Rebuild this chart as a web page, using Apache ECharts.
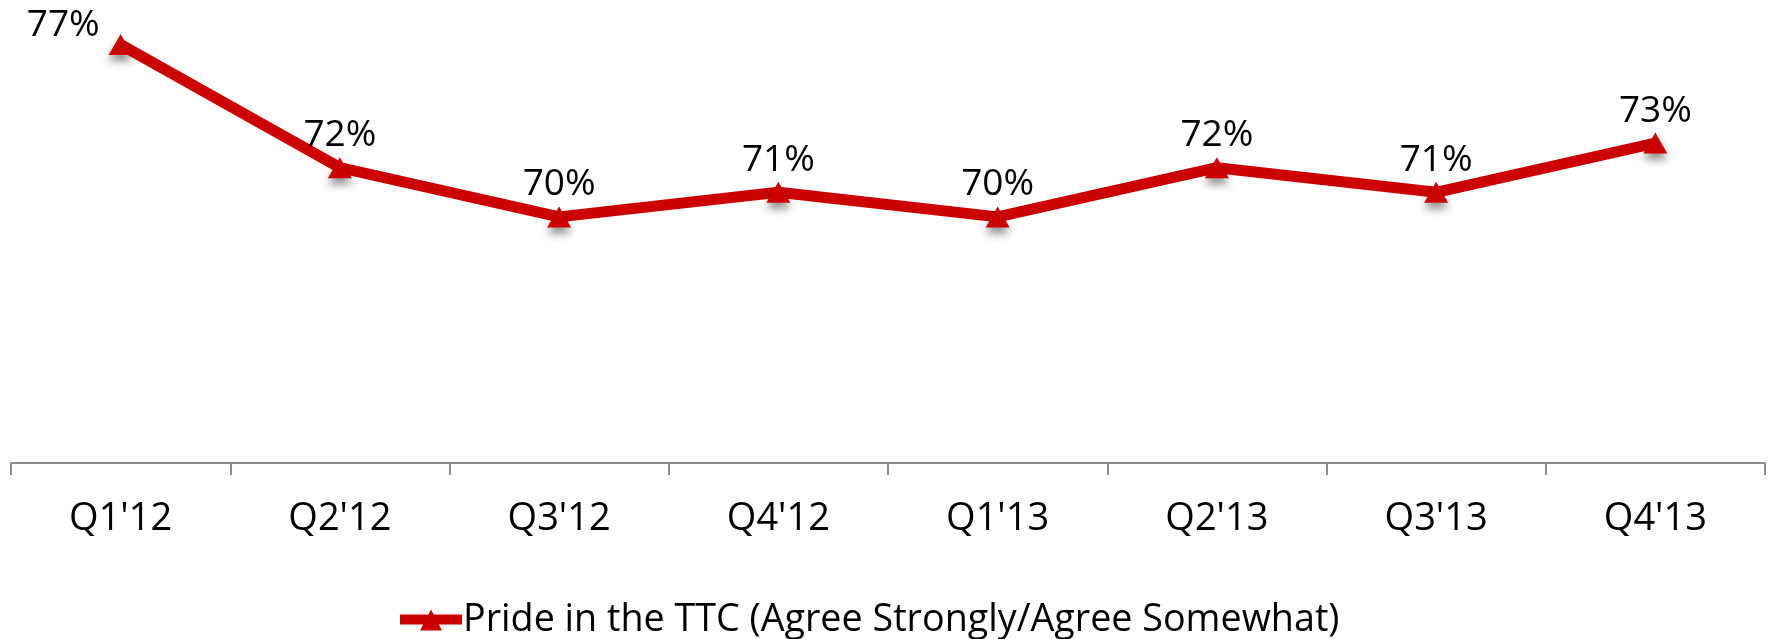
<!DOCTYPE html>
<html>
<head>
<meta charset="utf-8">
<script src="https://cdn.jsdelivr.net/npm/echarts@6/dist/echarts.min.js"></script>
<style>
html,body{margin:0;padding:0;background:#fff;}
#chart{width:1768px;height:639px;}
</style>
</head>
<body>
<div id="chart"></div>
<script>
const categories = ["Q1'12", "Q2'12", "Q3'12", "Q4'12", "Q1'13", "Q2'13", "Q3'13", "Q4'13"];
const seriesName = "Pride in the TTC (Agree Strongly/Agree Somewhat)";
const prideValues = [77, 72, 70, 71, 70, 72, 71, 73];

const FONT = "'Open Sans', 'Noto Sans', sans-serif";
const RED = '#CC0000';

const chart = echarts.init(document.getElementById('chart'), null, {renderer: 'canvas'});

const seriesData = prideValues.map((v, i) => {
  if (i === 0) {
    return {value: v, label: {position: 'left', distance: 9, offset: [0, -19]}};
  }
  return v;
});

chart.setOption({
  animation: false,
  backgroundColor: '#ffffff',
  grid: {left: 11, right: 3, top: 20, bottom: 176, containLabel: false},
  legend: {
    data: [seriesName],
    top: 601,
    left: 400,
    padding: 0,
    itemWidth: 62,
    itemHeight: 22,
    itemGap: 2,
    textStyle: {fontFamily: FONT, fontSize: 37.7, color: '#000', padding: [0, 0, 0, -4]},
    icon: 'path://M0,6 L62,6 L62,16 L0,16 Z M20,22 L31,1 L42,22 Z'
  },
  xAxis: {
    type: 'category',
    data: categories,
    boundaryGap: true,
    axisLine: {show: true, lineStyle: {color: '#8c8c8c', width: 2}},
    axisTick: {show: true, length: 12, alignWithLabel: false, lineStyle: {color: '#8c8c8c', width: 2}},
    axisLabel: {fontFamily: FONT, fontSize: 38, color: '#000', margin: 37}
  },
  yAxis: {
    type: 'value',
    min: 60,
    max: 78,
    show: false,
    splitLine: {show: false}
  },
  series: [{
    name: seriesName,
    type: 'line',
    data: seriesData,
    symbol: 'triangle',
    symbolSize: [24, 21],
    lineStyle: {color: RED, width: 11},
    itemStyle: {color: RED, shadowColor: 'rgba(0,0,0,0.45)', shadowBlur: 8, shadowOffsetY: 6},
    label: {
      show: true,
      position: 'top',
      distance: 3,
      formatter: p => p.value + '%',
      fontFamily: FONT,
      fontSize: 37,
      color: '#000'
    }
  }]
});
</script>
</body>
</html>
